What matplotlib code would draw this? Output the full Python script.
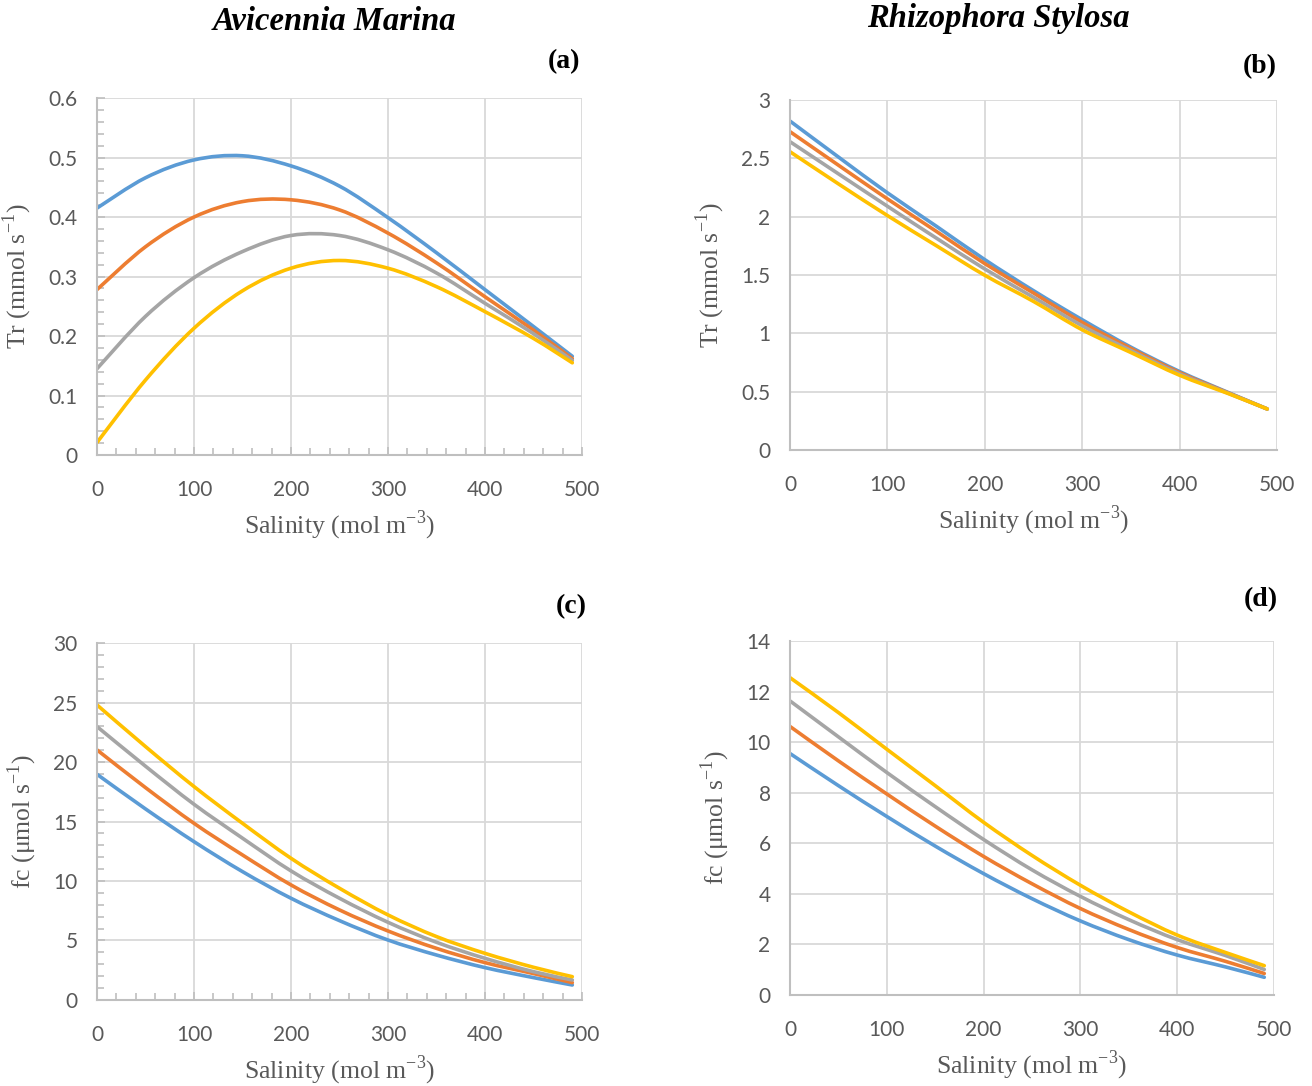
"""Transpiration and carbon-flux response to salinity for two mangrove species."""

import matplotlib

matplotlib.use("Agg")
import matplotlib.pyplot as plt
from matplotlib.patches import PathPatch
from matplotlib.path import Path
from matplotlib.ticker import MultipleLocator

salinity = [0, 50, 100, 150, 200, 250, 300, 350, 400, 450, 490]

# (a) Avicennia marina, Tr (mmol s-1)
tr_am_1 = [0.415, 0.466, 0.496, 0.503, 0.486, 0.452, 0.399, 0.340, 0.278, 0.216, 0.166]
tr_am_2 = [0.278, 0.350, 0.400, 0.426, 0.429, 0.412, 0.373, 0.323, 0.266, 0.210, 0.162]
tr_am_3 = [0.145, 0.233, 0.298, 0.342, 0.369, 0.369, 0.345, 0.306, 0.255, 0.204, 0.159]
tr_am_4 = [0.021, 0.126, 0.213, 0.276, 0.314, 0.327, 0.314, 0.283, 0.241, 0.196, 0.155]

# (b) Rhizophora stylosa, Tr (mmol s-1)
tr_rs_1 = [2.820, 2.510, 2.205, 1.920, 1.632, 1.366, 1.117, 0.882, 0.673, 0.493, 0.352]
tr_rs_2 = [2.729, 2.440, 2.153, 1.876, 1.598, 1.346, 1.094, 0.871, 0.664, 0.490, 0.352]
tr_rs_3 = [2.643, 2.366, 2.090, 1.818, 1.552, 1.309, 1.065, 0.853, 0.653, 0.487, 0.352]
tr_rs_4 = [2.557, 2.280, 2.010, 1.753, 1.498, 1.274, 1.031, 0.836, 0.641, 0.484, 0.352]

# (c) Avicennia marina, fc (umol s-1)
fc_am_1 = [18.97, 16.06, 13.31, 10.79, 8.55, 6.67, 5.04, 3.78, 2.72, 1.88, 1.26]
fc_am_2 = [21.02, 17.85, 14.85, 12.19, 9.67, 7.57, 5.80, 4.34, 3.14, 2.22, 1.46]
fc_am_3 = [22.98, 19.65, 16.45, 13.60, 10.85, 8.55, 6.53, 4.85, 3.50, 2.38, 1.68]
fc_am_4 = [24.80, 21.30, 17.94, 14.85, 11.91, 9.39, 7.15, 5.33, 3.92, 2.75, 1.96]

# (d) Rhizophora stylosa, fc (umol s-1)
fc_rs_1 = [9.55, 8.28, 7.06, 5.89, 4.80, 3.81, 2.93, 2.19, 1.58, 1.11, 0.70]
fc_rs_2 = [10.62, 9.26, 7.95, 6.68, 5.48, 4.40, 3.42, 2.59, 1.88, 1.33, 0.85]
fc_rs_3 = [11.63, 10.21, 8.80, 7.45, 6.15, 4.95, 3.90, 2.98, 2.19, 1.56, 1.01]
fc_rs_4 = [12.55, 11.17, 9.72, 8.28, 6.83, 5.52, 4.34, 3.29, 2.37, 1.68, 1.16]

colors = ["#5B9BD5", "#ED7D31", "#A5A5A5", "#FFC000"]

TICK_FONT = "Lato"
SERIF = "Liberation Serif"
GREY_TEXT = "#595959"


def smooth_path(xs, ys):
    """Catmull-Rom style Bezier through the points (like a spreadsheet 'smoothed line')."""
    pts = list(zip(xs, ys))
    verts = [pts[0]]
    codes = [Path.MOVETO]
    n = len(pts)
    for i in range(n - 1):
        p0 = pts[max(i - 1, 0)]
        p1 = pts[i]
        p2 = pts[i + 1]
        p3 = pts[min(i + 2, n - 1)]
        c1 = (p1[0] + (p2[0] - p0[0]) / 6, p1[1] + (p2[1] - p0[1]) / 6)
        c2 = (p2[0] - (p3[0] - p1[0]) / 6, p2[1] - (p3[1] - p1[1]) / 6)
        verts += [c1, c2, p2]
        codes += [Path.CURVE4] * 3
    return Path(verts, codes)


def draw_panel(ax, series, ymax, ystep, ylabel, minor=None):
    ax.set_xlim(0, 500)
    ax.set_ylim(0, ymax)
    ax.xaxis.set_major_locator(MultipleLocator(100))
    ax.yaxis.set_major_locator(MultipleLocator(ystep))
    ax.yaxis.set_major_formatter(lambda v, _: f"{v:g}")
    ax.grid(True, color="#D9D9D9", lw=1.3)
    ax.set_axisbelow(True)
    for side in ("top", "right"):
        ax.spines[side].set_visible(False)
    for side in ("left", "bottom"):
        ax.spines[side].set_color("#BFBFBF")
        ax.spines[side].set_linewidth(1.5)

    if minor is not None:
        ax.xaxis.set_minor_locator(MultipleLocator(20))
        ax.yaxis.set_minor_locator(MultipleLocator(minor))
        ax.tick_params(which="both", direction="in", color="#BFBFBF", width=1.2)
        ax.tick_params(which="major", length=6)
        ax.tick_params(which="minor", length=5)
    else:
        ax.tick_params(which="both", length=0)
    ax.tick_params(axis="y", pad=14, labelsize=15, labelcolor=GREY_TEXT)
    ax.tick_params(axis="x", pad=18, labelsize=15, labelcolor=GREY_TEXT)
    for lab in ax.get_xticklabels() + ax.get_yticklabels():
        lab.set_fontfamily(TICK_FONT)

    for ys, c in zip(series, colors):
        ax.add_patch(PathPatch(smooth_path(salinity, ys), fill=False,
                               edgecolor=c, lw=2.6, capstyle="round"))

    ax.set_xlabel("Salinity (mol m$^{\\mathregular{-3}}$)", family=SERIF,
                  fontsize=18.5, color=GREY_TEXT, labelpad=6)
    ax.set_ylabel(ylabel, family=SERIF, fontsize=18.5, color=GREY_TEXT, labelpad=10)


plt.rcParams["mathtext.fontset"] = "custom"
plt.rcParams["mathtext.rm"] = SERIF

fig = plt.figure(figsize=(13.12, 10.86), dpi=100)
ax_a = fig.add_axes([0.0739, 0.581, 0.3697, 0.3287])
ax_b = fig.add_axes([0.6021, 0.5856, 0.3712, 0.3223])
ax_c = fig.add_axes([0.0739, 0.0792, 0.3697, 0.3287])
ax_d = fig.add_axes([0.6021, 0.0838, 0.3689, 0.326])

tr_label = "Tr (mmol s$^{\\mathregular{-1}}$)"
fc_label = "fc (\u03bcmol s$^{\\mathregular{-1}}$)"

draw_panel(ax_a, [tr_am_1, tr_am_2, tr_am_3, tr_am_4], 0.6, 0.1, tr_label, minor=0.02)
draw_panel(ax_b, [tr_rs_1, tr_rs_2, tr_rs_3, tr_rs_4], 3, 0.5, tr_label)
draw_panel(ax_c, [fc_am_1, fc_am_2, fc_am_3, fc_am_4], 30, 5, fc_label, minor=1)
draw_panel(ax_d, [fc_rs_1, fc_rs_2, fc_rs_3, fc_rs_4], 14, 2, fc_label)

# panel tags, right-aligned above each plot
W, H = 1312, 1086
for tag, x, y in [("(a)", 580, 62), ("(b)", 1277, 67), ("(c)", 587, 607), ("(d)", 1278, 600)]:
    fig.text(x / W, 1 - y / H, tag, ha="right", va="center",
             family=SERIF, fontweight="bold", fontsize=20)

fig.text(335 / W, 1 - 21 / H, "Avicennia Marina", ha="center", va="center",
         family=SERIF, fontweight="bold", fontstyle="italic", fontsize=23.5)
fig.text(998 / W, 1 - 19 / H, "Rhizophora Stylosa", ha="center", va="center",
         family=SERIF, fontweight="bold", fontstyle="italic", fontsize=23.5)

fig.savefig("out.png", dpi=100)
